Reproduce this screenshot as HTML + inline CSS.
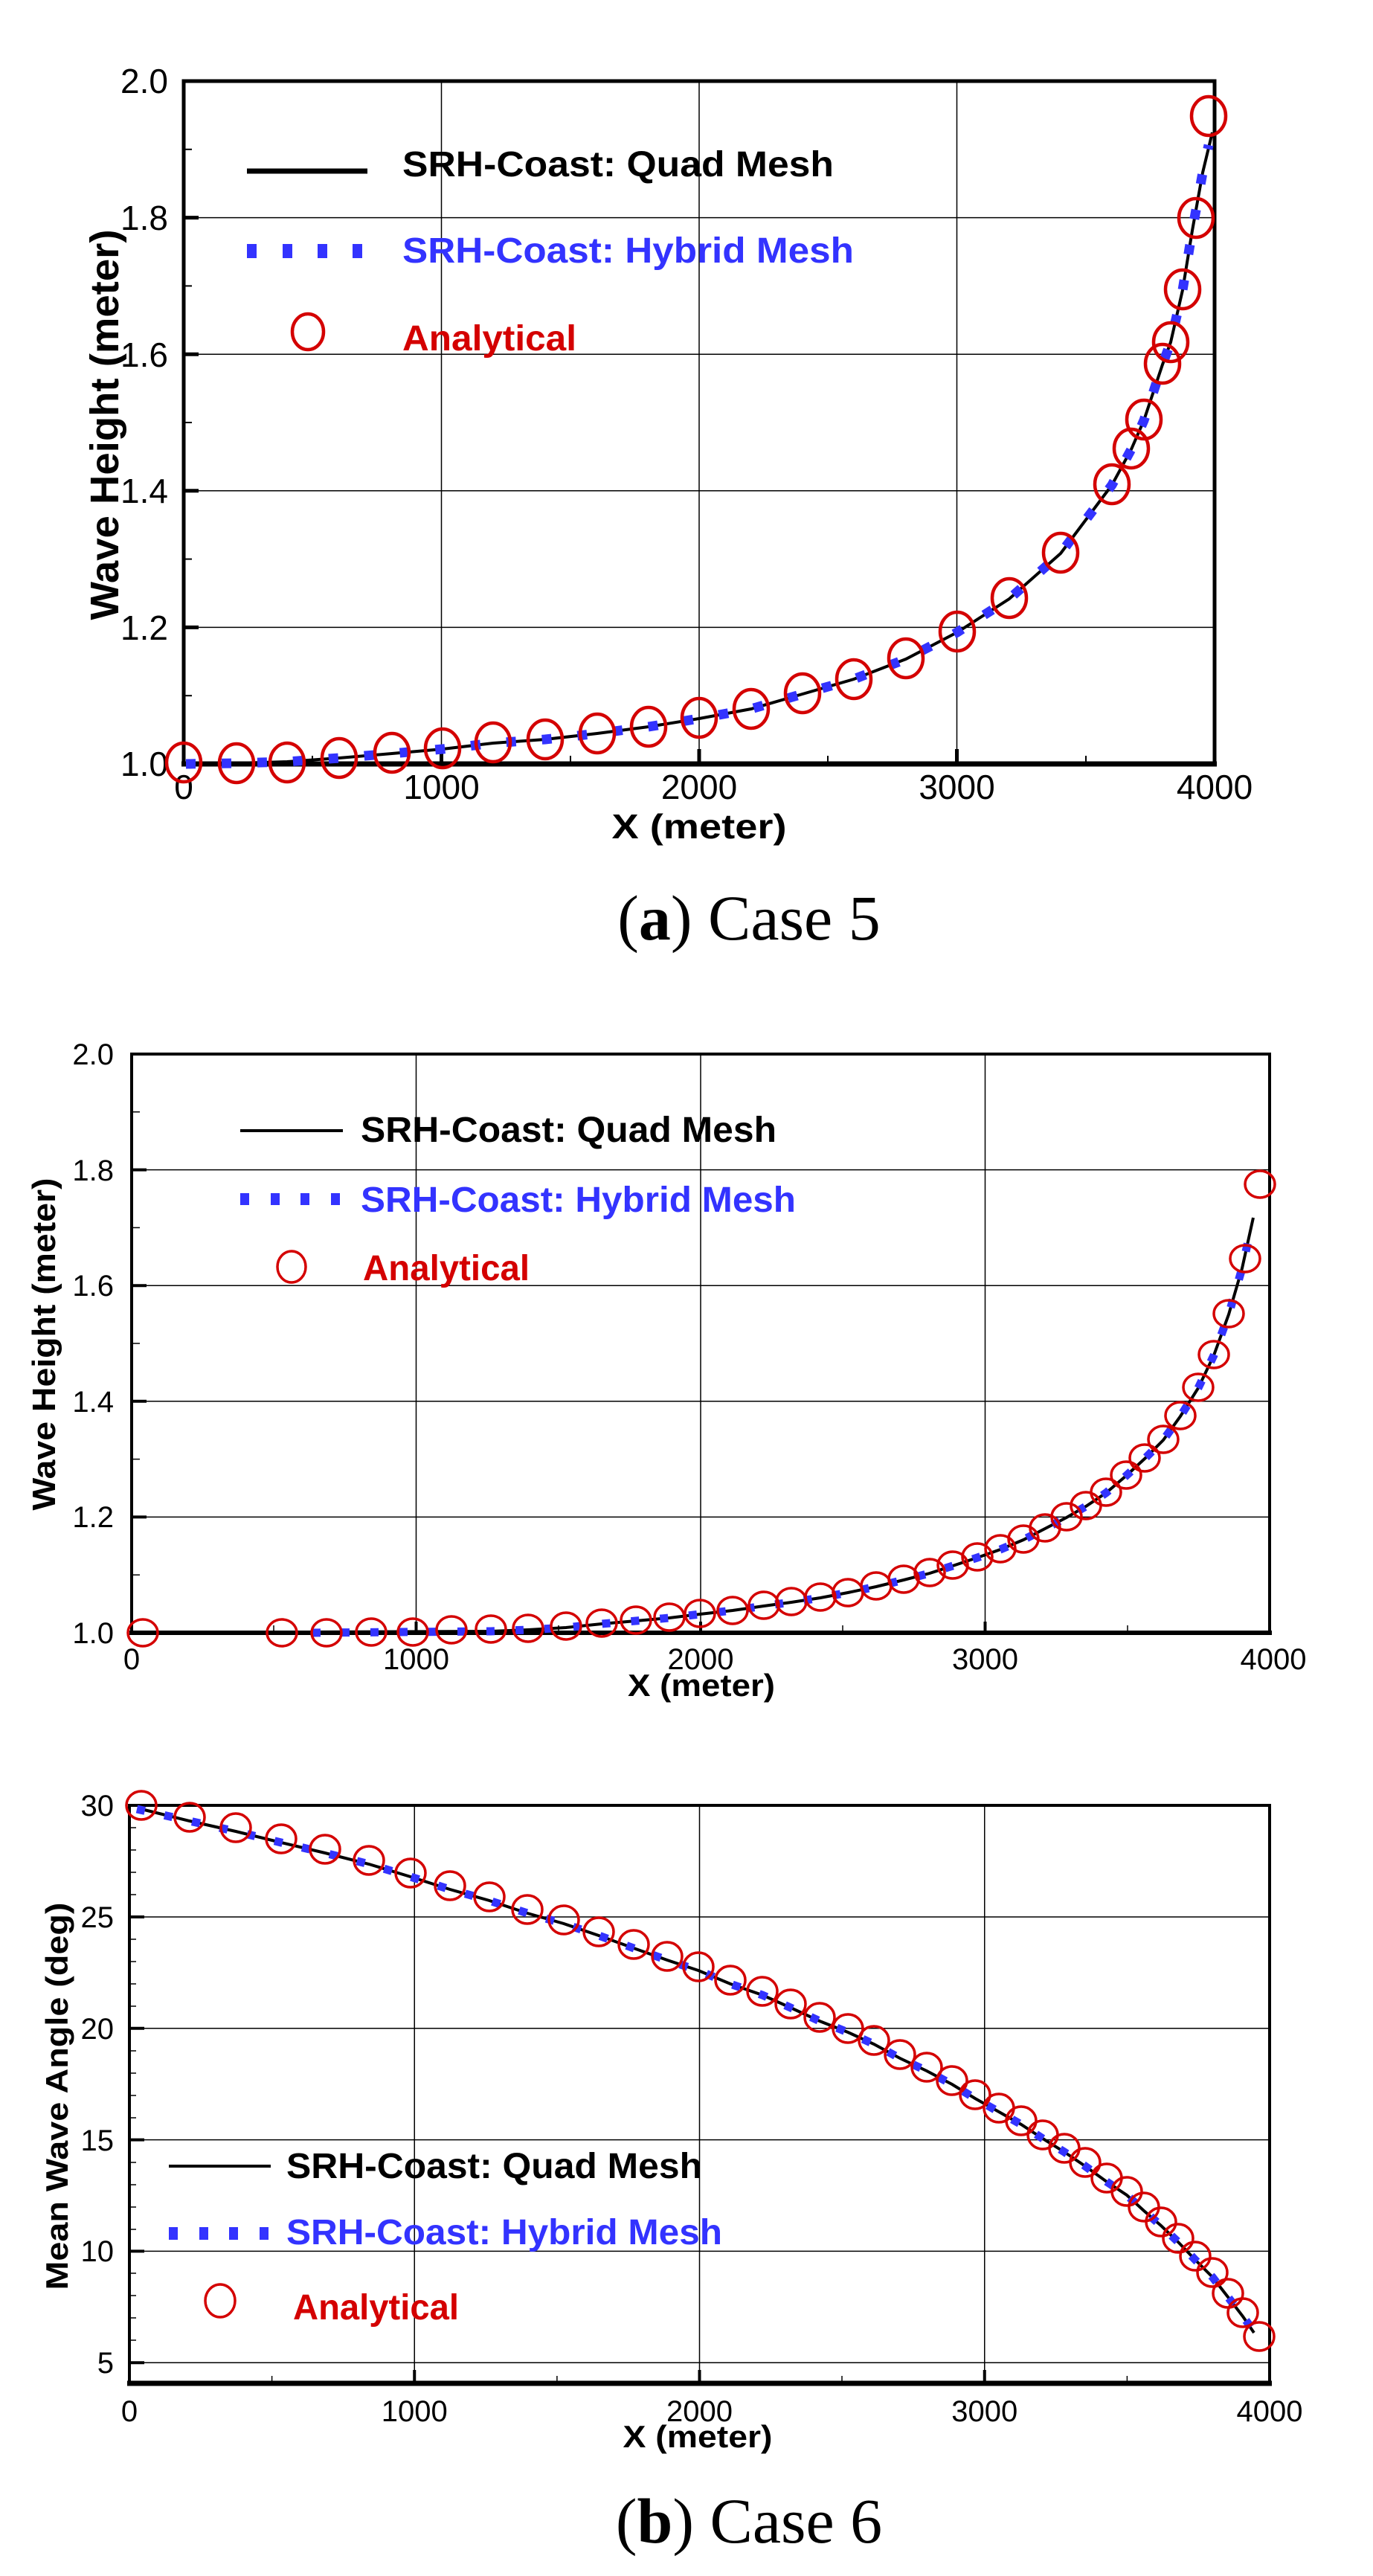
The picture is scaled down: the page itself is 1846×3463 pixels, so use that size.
<!DOCTYPE html>
<html><head><meta charset="utf-8"><style>
html,body{margin:0;padding:0;background:#fff;}
svg{display:block;}
text{font-family:"Liberation Sans",sans-serif;}
.tl{font-size:46px;fill:#000;}
.tb{font-size:40px;fill:#000;}
.lg{font-size:48px;font-weight:bold;}
.ti{font-weight:bold;fill:#000;}
.cap{font-family:"Liberation Serif",serif;font-size:86px;fill:#000;}
.g{stroke:#000;stroke-width:1.5;fill:none;}
.c{fill:none;stroke:#d40000;}
</style></head><body>
<svg width="1846" height="3463" viewBox="0 0 1846 3463" xmlns="http://www.w3.org/2000/svg">
<rect width="1846" height="3463" fill="#fff"/>

<!-- ================= TOP CHART (a) ================= -->
<g class="g">
<line x1="593.5" y1="109" x2="593.5" y2="1027"/><line x1="940" y1="109" x2="940" y2="1027"/><line x1="1286.5" y1="109" x2="1286.5" y2="1027"/>
<line x1="247" y1="292.6" x2="1633" y2="292.6"/><line x1="247" y1="476.2" x2="1633" y2="476.2"/><line x1="247" y1="659.8" x2="1633" y2="659.8"/><line x1="247" y1="843.4" x2="1633" y2="843.4"/>
</g>
<g stroke="#000" stroke-width="5">
<line x1="247" y1="292.6" x2="267" y2="292.6"/><line x1="247" y1="476.2" x2="267" y2="476.2"/><line x1="247" y1="659.8" x2="267" y2="659.8"/><line x1="247" y1="843.4" x2="267" y2="843.4"/>
<line x1="593.5" y1="1027" x2="593.5" y2="1007"/><line x1="940" y1="1027" x2="940" y2="1007"/><line x1="1286.5" y1="1027" x2="1286.5" y2="1007"/>
</g>
<g stroke="#000" stroke-width="2">
<line x1="247" y1="200.8" x2="258" y2="200.8"/><line x1="247" y1="384.4" x2="258" y2="384.4"/><line x1="247" y1="568" x2="258" y2="568"/><line x1="247" y1="751.6" x2="258" y2="751.6"/><line x1="247" y1="935.2" x2="258" y2="935.2"/>
<line x1="420" y1="1027" x2="420" y2="1016"/><line x1="767" y1="1027" x2="767" y2="1016"/><line x1="1113" y1="1027" x2="1113" y2="1016"/><line x1="1460" y1="1027" x2="1460" y2="1016"/>
</g>
<rect x="247" y="109" width="1386" height="918" fill="none" stroke="#000" stroke-width="5"/>
<line x1="244" y1="1027" x2="1636" y2="1027" stroke="#000" stroke-width="7"/>

<g class="tl" text-anchor="end">
<text x="226" y="125">2.0</text><text x="226" y="309">1.8</text><text x="226" y="493">1.6</text><text x="226" y="676">1.4</text><text x="226" y="860">1.2</text><text x="226" y="1043">1.0</text>
</g>
<g class="tl" text-anchor="middle">
<text x="247" y="1074">0</text><text x="593.5" y="1074">1000</text><text x="940" y="1074">2000</text><text x="1286.5" y="1074">3000</text><text x="1633" y="1074">4000</text>
</g>
<text class="ti" x="940" y="1127" text-anchor="middle" font-size="46" textLength="235" lengthAdjust="spacingAndGlyphs">X (meter)</text>
<text class="ti" transform="translate(159,571) rotate(-90)" text-anchor="middle" font-size="54" textLength="525" lengthAdjust="spacingAndGlyphs">Wave Height (meter)</text>

<!-- legend -->
<line x1="332" y1="230" x2="494" y2="230" stroke="#000" stroke-width="7"/>
<text class="lg" x="541" y="237" fill="#000" textLength="580" lengthAdjust="spacingAndGlyphs">SRH-Coast: Quad Mesh</text>
<g fill="#3333ff"><rect x="332" y="328" width="13" height="19"/><rect x="380" y="328" width="13" height="19"/><rect x="427" y="328" width="13" height="19"/><rect x="474" y="328" width="13" height="19"/></g>
<text class="lg" x="541" y="353" fill="#3333ff" textLength="607" lengthAdjust="spacingAndGlyphs">SRH-Coast: Hybrid Mesh</text>
<ellipse class="c" cx="414" cy="446" rx="21" ry="24" stroke-width="4.5"/>
<text class="lg" x="541" y="471" fill="#d40000" textLength="234" lengthAdjust="spacingAndGlyphs">Analytical</text>

<!-- series -->
<polyline fill="none" stroke="#000" stroke-width="4" points="247,1027 318,1026 386,1024 456,1019 527,1013 595,1007 663,999 733,994 803,986 872,977 940,966 1010,953 1079,933 1148,913 1218,886 1287,850 1357,805 1426,744 1495,652 1521,604 1538,565 1563,490 1574,460 1590,390 1603,310 1617,232 1630,178"/>
<polyline fill="none" stroke="#3333ff" stroke-width="13" stroke-dasharray="13 35" points="250,1027 318,1026 386,1024 456,1019 527,1013 595,1007 663,999 733,994 803,986 872,977 940,966 1010,953 1079,933 1148,913 1218,886 1287,850 1357,805 1426,744 1495,652 1521,604 1538,565 1563,490 1574,460 1590,390 1603,310 1617,232 1625,195"/>
<g class="c" stroke-width="4.5">
<ellipse cx="247" cy="1025" rx="23" ry="26"/><ellipse cx="318" cy="1026" rx="23" ry="26"/><ellipse cx="386" cy="1025" rx="23" ry="26"/><ellipse cx="456" cy="1019" rx="23" ry="26"/><ellipse cx="527" cy="1012" rx="23" ry="26"/><ellipse cx="595" cy="1006" rx="23" ry="26"/><ellipse cx="663" cy="998" rx="23" ry="26"/><ellipse cx="733" cy="994" rx="23" ry="26"/><ellipse cx="803" cy="986" rx="23" ry="26"/><ellipse cx="872" cy="977" rx="23" ry="26"/><ellipse cx="940" cy="965" rx="23" ry="26"/><ellipse cx="1010" cy="953" rx="23" ry="26"/><ellipse cx="1079" cy="932" rx="23" ry="26"/><ellipse cx="1148" cy="913" rx="23" ry="26"/><ellipse cx="1218" cy="885" rx="23" ry="26"/><ellipse cx="1287" cy="849" rx="23" ry="26"/><ellipse cx="1357" cy="804" rx="23" ry="26"/><ellipse cx="1426" cy="743" rx="23" ry="26"/><ellipse cx="1495" cy="651" rx="23" ry="26"/><ellipse cx="1521" cy="603" rx="23" ry="26"/><ellipse cx="1538" cy="564" rx="23" ry="26"/><ellipse cx="1563" cy="489" rx="23" ry="26"/><ellipse cx="1574" cy="460" rx="23" ry="26"/><ellipse cx="1590" cy="389" rx="23" ry="26"/><ellipse cx="1608" cy="293" rx="23" ry="26"/><ellipse cx="1625" cy="156" rx="23" ry="26"/>
</g>

<text class="cap" x="1007" y="1263" text-anchor="middle">(<tspan font-weight="bold">a</tspan>) Case 5</text>

<!-- ================= CHART b1 ================= -->
<g class="g">
<line x1="559.5" y1="1417" x2="559.5" y2="2195"/><line x1="942" y1="1417" x2="942" y2="2195"/><line x1="1324.5" y1="1417" x2="1324.5" y2="2195"/>
<line x1="177" y1="1572.6" x2="1707" y2="1572.6"/><line x1="177" y1="1728.2" x2="1707" y2="1728.2"/><line x1="177" y1="1883.8" x2="1707" y2="1883.8"/><line x1="177" y1="2039.4" x2="1707" y2="2039.4"/>
</g>
<g stroke="#000" stroke-width="4">
<line x1="177" y1="1572.6" x2="197" y2="1572.6"/><line x1="177" y1="1728.2" x2="197" y2="1728.2"/><line x1="177" y1="1883.8" x2="197" y2="1883.8"/><line x1="177" y1="2039.4" x2="197" y2="2039.4"/>
<line x1="559.5" y1="2195" x2="559.5" y2="2180"/><line x1="942" y1="2195" x2="942" y2="2180"/><line x1="1324.5" y1="2195" x2="1324.5" y2="2180"/>
</g>
<g stroke="#000" stroke-width="1.5">
<line x1="177" y1="1494.8" x2="188" y2="1494.8"/><line x1="177" y1="1650.4" x2="188" y2="1650.4"/><line x1="177" y1="1806" x2="188" y2="1806"/><line x1="177" y1="1961.6" x2="188" y2="1961.6"/><line x1="177" y1="2117.2" x2="188" y2="2117.2"/>
<line x1="368" y1="2195" x2="368" y2="2185"/><line x1="751" y1="2195" x2="751" y2="2185"/><line x1="1133" y1="2195" x2="1133" y2="2185"/><line x1="1516" y1="2195" x2="1516" y2="2185"/>
</g>
<rect x="177" y="1417" width="1530" height="778" fill="none" stroke="#000" stroke-width="4"/>
<line x1="174" y1="2195" x2="1710" y2="2195" stroke="#000" stroke-width="6"/>

<g class="tb" text-anchor="end">
<text x="153" y="1431">2.0</text><text x="153" y="1587">1.8</text><text x="153" y="1742">1.6</text><text x="153" y="1898">1.4</text><text x="153" y="2053">1.2</text><text x="153" y="2209">1.0</text>
</g>
<g class="tb" text-anchor="middle">
<text x="177" y="2244">0</text><text x="559.5" y="2244">1000</text><text x="942" y="2244">2000</text><text x="1324.5" y="2244">3000</text><text x="1712" y="2244">4000</text>
</g>
<text class="ti" x="943" y="2280" text-anchor="middle" font-size="42" textLength="198" lengthAdjust="spacingAndGlyphs">X (meter)</text>
<text class="ti" transform="translate(74,1807) rotate(-90)" text-anchor="middle" font-size="44" textLength="447" lengthAdjust="spacingAndGlyphs">Wave Height (meter)</text>

<line x1="323" y1="1520" x2="461" y2="1520" stroke="#000" stroke-width="4"/>
<text class="lg" x="485" y="1535" fill="#000" textLength="559" lengthAdjust="spacingAndGlyphs">SRH-Coast: Quad Mesh</text>
<g fill="#3333ff"><rect x="323" y="1604" width="12" height="16"/><rect x="364" y="1604" width="12" height="16"/><rect x="404" y="1604" width="12" height="16"/><rect x="445" y="1604" width="12" height="16"/></g>
<text class="lg" x="485" y="1629" fill="#3333ff" textLength="585" lengthAdjust="spacingAndGlyphs">SRH-Coast: Hybrid Mesh</text>
<ellipse class="c" cx="392" cy="1703" rx="19" ry="21" stroke-width="3.5"/>
<text class="lg" x="488" y="1721" fill="#d40000" textLength="224" lengthAdjust="spacingAndGlyphs">Analytical</text>

<polyline fill="none" stroke="#000" stroke-width="4" points="177,2195 660,2193 710,2191 761,2188 809,2183 855,2179 900,2175 941,2170 985,2165 1027,2159 1064,2154 1103,2148 1140,2141 1178,2133 1215,2124 1250,2115 1281,2105 1314,2094 1345,2083 1376,2070 1405,2055 1434,2040 1460,2025 1487,2007 1514,1984 1539,1961 1564,1936 1587,1904 1611,1866 1632,1822 1652,1767 1670,1705 1685,1637"/>
<polyline fill="none" stroke="#3333ff" stroke-width="11" stroke-dasharray="11 28" points="420,2195 660,2193 710,2191 761,2188 809,2183 855,2179 900,2175 941,2170 985,2165 1027,2159 1064,2154 1103,2148 1140,2141 1178,2133 1215,2124 1250,2115 1281,2105 1314,2094 1345,2083 1376,2070 1405,2055 1434,2040 1460,2025 1487,2007 1514,1984 1539,1961 1564,1936 1587,1904 1611,1866 1632,1822 1652,1767 1670,1705 1680,1660"/>
<g class="c" stroke-width="3.5">
<ellipse cx="192" cy="2195" rx="20" ry="18"/><ellipse cx="379" cy="2195" rx="20" ry="18"/><ellipse cx="439" cy="2195" rx="20" ry="18"/><ellipse cx="499" cy="2194" rx="20" ry="18"/><ellipse cx="555" cy="2194" rx="20" ry="18"/><ellipse cx="607" cy="2191" rx="20" ry="18"/><ellipse cx="660" cy="2190" rx="20" ry="18"/><ellipse cx="710" cy="2189" rx="20" ry="18"/><ellipse cx="761" cy="2186" rx="20" ry="18"/><ellipse cx="809" cy="2182" rx="20" ry="18"/><ellipse cx="855" cy="2178" rx="20" ry="18"/><ellipse cx="900" cy="2174" rx="20" ry="18"/><ellipse cx="941" cy="2169" rx="20" ry="18"/><ellipse cx="985" cy="2165" rx="20" ry="18"/><ellipse cx="1027" cy="2158" rx="20" ry="18"/><ellipse cx="1064" cy="2153" rx="20" ry="18"/><ellipse cx="1103" cy="2147" rx="20" ry="18"/><ellipse cx="1140" cy="2141" rx="20" ry="18"/><ellipse cx="1178" cy="2132" rx="20" ry="18"/><ellipse cx="1215" cy="2123" rx="20" ry="18"/><ellipse cx="1250" cy="2114" rx="20" ry="18"/><ellipse cx="1281" cy="2104" rx="20" ry="18"/><ellipse cx="1314" cy="2093" rx="20" ry="18"/><ellipse cx="1345" cy="2082" rx="20" ry="18"/><ellipse cx="1376" cy="2069" rx="20" ry="18"/><ellipse cx="1405" cy="2054" rx="20" ry="18"/><ellipse cx="1434" cy="2039" rx="20" ry="18"/><ellipse cx="1460" cy="2024" rx="20" ry="18"/><ellipse cx="1487" cy="2006" rx="20" ry="18"/><ellipse cx="1514" cy="1983" rx="20" ry="18"/><ellipse cx="1539" cy="1960" rx="20" ry="18"/><ellipse cx="1564" cy="1935" rx="20" ry="18"/><ellipse cx="1587" cy="1903" rx="20" ry="18"/><ellipse cx="1611" cy="1865" rx="20" ry="18"/><ellipse cx="1632" cy="1821" rx="20" ry="18"/><ellipse cx="1652" cy="1766" rx="20" ry="18"/><ellipse cx="1674" cy="1692" rx="20" ry="18"/><ellipse cx="1694" cy="1592" rx="20" ry="18"/>
</g>

<!-- ================= CHART b2 ================= -->
<g class="g">
<line x1="557.25" y1="2427" x2="557.25" y2="3204"/><line x1="940.5" y1="2427" x2="940.5" y2="3204"/><line x1="1323.75" y1="2427" x2="1323.75" y2="3204"/>
<line x1="174" y1="2577" x2="1707" y2="2577"/><line x1="174" y1="2726.8" x2="1707" y2="2726.8"/><line x1="174" y1="2876.6" x2="1707" y2="2876.6"/><line x1="174" y1="3026.4" x2="1707" y2="3026.4"/><line x1="174" y1="3176.2" x2="1707" y2="3176.2"/>
</g>
<g stroke="#000" stroke-width="4">
<line x1="174" y1="2577" x2="194" y2="2577"/><line x1="174" y1="2726.8" x2="194" y2="2726.8"/><line x1="174" y1="2876.6" x2="194" y2="2876.6"/><line x1="174" y1="3026.4" x2="194" y2="3026.4"/><line x1="174" y1="3176.2" x2="194" y2="3176.2"/>
<line x1="557.25" y1="3204" x2="557.25" y2="3186"/><line x1="940.5" y1="3204" x2="940.5" y2="3186"/><line x1="1323.75" y1="3204" x2="1323.75" y2="3186"/>
</g>
<g stroke="#000" stroke-width="1.5">
<line x1="174" y1="2457" x2="183" y2="2457"/><line x1="174" y1="2487" x2="183" y2="2487"/><line x1="174" y1="2517" x2="183" y2="2517"/><line x1="174" y1="2547" x2="183" y2="2547"/>
<line x1="174" y1="2607" x2="183" y2="2607"/><line x1="174" y1="2637" x2="183" y2="2637"/><line x1="174" y1="2667" x2="183" y2="2667"/><line x1="174" y1="2697" x2="183" y2="2697"/>
<line x1="174" y1="2757" x2="183" y2="2757"/><line x1="174" y1="2787" x2="183" y2="2787"/><line x1="174" y1="2817" x2="183" y2="2817"/><line x1="174" y1="2847" x2="183" y2="2847"/>
<line x1="174" y1="2907" x2="183" y2="2907"/><line x1="174" y1="2937" x2="183" y2="2937"/><line x1="174" y1="2967" x2="183" y2="2967"/><line x1="174" y1="2997" x2="183" y2="2997"/>
<line x1="174" y1="3056" x2="183" y2="3056"/><line x1="174" y1="3086" x2="183" y2="3086"/><line x1="174" y1="3116" x2="183" y2="3116"/><line x1="174" y1="3146" x2="183" y2="3146"/>
<line x1="365.6" y1="3204" x2="365.6" y2="3194"/><line x1="748.9" y1="3204" x2="748.9" y2="3194"/><line x1="1132" y1="3204" x2="1132" y2="3194"/><line x1="1515.4" y1="3204" x2="1515.4" y2="3194"/>
</g>
<rect x="174" y="2427" width="1533" height="777" fill="none" stroke="#000" stroke-width="4"/>
<line x1="171" y1="3204" x2="1710" y2="3204" stroke="#000" stroke-width="7"/>

<g class="tb" text-anchor="end">
<text x="153" y="2441">30</text><text x="153" y="2591">25</text><text x="153" y="2741">20</text><text x="153" y="2891">15</text><text x="153" y="3040">10</text><text x="153" y="3190">5</text>
</g>
<g class="tb" text-anchor="middle">
<text x="174" y="3255">0</text><text x="557.25" y="3255">1000</text><text x="940.5" y="3255">2000</text><text x="1323.75" y="3255">3000</text><text x="1707" y="3255">4000</text>
</g>
<text class="ti" x="938" y="3290" text-anchor="middle" font-size="42" textLength="201" lengthAdjust="spacingAndGlyphs">X (meter)</text>
<text class="ti" transform="translate(91,2818) rotate(-90)" text-anchor="middle" font-size="42" textLength="521" lengthAdjust="spacingAndGlyphs">Mean Wave Angle (deg)</text>

<line x1="227" y1="2912" x2="364" y2="2912" stroke="#000" stroke-width="4"/>
<text class="lg" x="385" y="2928" fill="#000" textLength="559" lengthAdjust="spacingAndGlyphs">SRH-Coast: Quad Mesh</text>
<g fill="#3333ff"><rect x="227" y="2994" width="12" height="17"/><rect x="268" y="2994" width="12" height="17"/><rect x="308" y="2994" width="12" height="17"/><rect x="349" y="2994" width="12" height="17"/></g>
<text class="lg" x="385" y="3017" fill="#3333ff" textLength="586" lengthAdjust="spacingAndGlyphs">SRH-Coast: Hybrid Mesh</text>
<ellipse class="c" cx="296" cy="3093" rx="20" ry="22" stroke-width="3.5"/>
<text class="lg" x="394" y="3118" fill="#d40000" textLength="223" lengthAdjust="spacingAndGlyphs">Analytical</text>

<polyline fill="none" stroke="#000" stroke-width="4" points="190,2432 255,2448 317,2462 378,2477 437,2491 496,2506 552,2523 605,2540 658,2555 709,2572 758,2586 805,2602 852,2619 897,2635 939,2649 982,2667 1025,2682 1063,2699 1102,2717 1140,2732 1175,2748 1210,2767 1246,2784 1280,2802 1311,2821 1343,2839 1373,2856 1402,2875 1431,2893 1459,2912 1488,2933 1515,2951 1538,2972 1561,2992 1584,3014 1607,3038 1630,3061 1651,3088 1671,3114 1686,3136"/>
<polyline fill="none" stroke="#3333ff" stroke-width="11" stroke-dasharray="11 27" points="184,2432 255,2448 317,2462 378,2477 437,2491 496,2506 552,2523 605,2540 658,2555 709,2572 758,2586 805,2602 852,2619 897,2635 939,2649 982,2667 1025,2682 1063,2699 1102,2717 1140,2732 1175,2748 1210,2767 1246,2784 1280,2802 1311,2821 1343,2839 1373,2856 1402,2875 1431,2893 1459,2912 1488,2933 1515,2951 1538,2972 1561,2992 1584,3014 1607,3038 1630,3061 1651,3088 1671,3114 1683,3130"/>
<g class="c" stroke-width="3.5">
<ellipse cx="190" cy="2427" rx="20" ry="19"/><ellipse cx="255" cy="2443" rx="20" ry="19"/><ellipse cx="317" cy="2457" rx="20" ry="19"/><ellipse cx="378" cy="2472" rx="20" ry="19"/><ellipse cx="437" cy="2486" rx="20" ry="19"/><ellipse cx="496" cy="2501" rx="20" ry="19"/><ellipse cx="552" cy="2518" rx="20" ry="19"/><ellipse cx="605" cy="2535" rx="20" ry="19"/><ellipse cx="658" cy="2550" rx="20" ry="19"/><ellipse cx="709" cy="2567" rx="20" ry="19"/><ellipse cx="758" cy="2581" rx="20" ry="19"/><ellipse cx="805" cy="2597" rx="20" ry="19"/><ellipse cx="852" cy="2614" rx="20" ry="19"/><ellipse cx="897" cy="2630" rx="20" ry="19"/><ellipse cx="939" cy="2644" rx="20" ry="19"/><ellipse cx="982" cy="2662" rx="20" ry="19"/><ellipse cx="1025" cy="2677" rx="20" ry="19"/><ellipse cx="1063" cy="2694" rx="20" ry="19"/><ellipse cx="1102" cy="2712" rx="20" ry="19"/><ellipse cx="1140" cy="2727" rx="20" ry="19"/><ellipse cx="1175" cy="2743" rx="20" ry="19"/><ellipse cx="1210" cy="2762" rx="20" ry="19"/><ellipse cx="1246" cy="2779" rx="20" ry="19"/><ellipse cx="1280" cy="2797" rx="20" ry="19"/><ellipse cx="1311" cy="2816" rx="20" ry="19"/><ellipse cx="1343" cy="2834" rx="20" ry="19"/><ellipse cx="1373" cy="2851" rx="20" ry="19"/><ellipse cx="1402" cy="2870" rx="20" ry="19"/><ellipse cx="1431" cy="2888" rx="20" ry="19"/><ellipse cx="1459" cy="2907" rx="20" ry="19"/><ellipse cx="1488" cy="2928" rx="20" ry="19"/><ellipse cx="1515" cy="2946" rx="20" ry="19"/><ellipse cx="1538" cy="2967" rx="20" ry="19"/><ellipse cx="1561" cy="2987" rx="20" ry="19"/><ellipse cx="1584" cy="3009" rx="20" ry="19"/><ellipse cx="1607" cy="3033" rx="20" ry="19"/><ellipse cx="1630" cy="3055" rx="20" ry="19"/><ellipse cx="1651" cy="3083" rx="20" ry="19"/><ellipse cx="1671" cy="3109" rx="20" ry="19"/><ellipse cx="1693" cy="3141" rx="20" ry="19"/>
</g>

<text class="cap" x="1007" y="3418" text-anchor="middle">(<tspan font-weight="bold">b</tspan>) Case 6</text>
</svg>
</body></html>
